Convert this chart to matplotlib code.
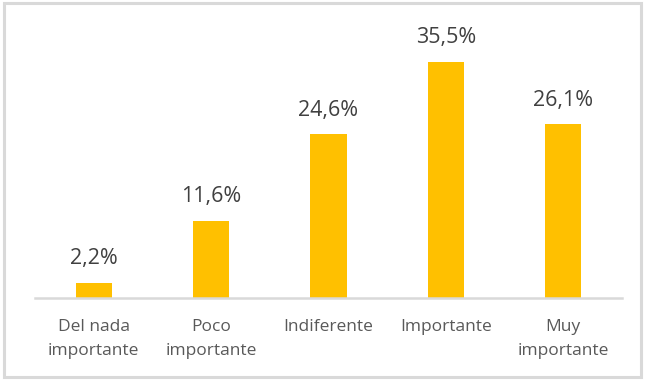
import matplotlib
matplotlib.use("Agg")
import matplotlib.pyplot as plt
from matplotlib.patches import Rectangle

categories = ["Del nada\nimportante", "Poco\nimportante", "Indiferente", "Importante", "Muy\nimportante"]
values = [2.2, 11.6, 24.6, 35.5, 26.1]
value_labels = ["2,2%", "11,6%", "24,6%", "35,5%", "26,1%"]

plt.rcParams['font.family'] = ['Open Sans', 'DejaVu Sans']

W, H = 646, 380
fig = plt.figure(figsize=(W / 100, H / 100), dpi=100)
ax = fig.add_axes([35 / W, 1 - 298 / H, 587 / W, 266 / H])

x = list(range(len(categories)))
ax.bar(x, values, width=0.31, color="#FFC000", zorder=2)
for xi, v, lab in zip(x, values, value_labels):
    ax.annotate(lab, (xi, v), xytext=(0, 10), textcoords="offset points",
                ha="center", va="bottom", fontsize=15.5, color="#404040")

ax.set_xlim(-0.5, 4.5)
ax.set_ylim(0, 40)
ax.set_xticks(x)
ax.set_xticklabels(categories, fontsize=12.5, color="#595959", linespacing=1.7)
ax.tick_params(axis="x", length=0, pad=15)
ax.set_yticks([])
for s in ["top", "right", "left"]:
    ax.spines[s].set_visible(False)
ax.spines["bottom"].set_color("#D9D9D9")
ax.spines["bottom"].set_linewidth(1.8)

fig.patches.append(Rectangle((4 / W, 3 / H), 637 / W, 374 / H, transform=fig.transFigure,
                             fill=False, edgecolor="#D9D9D9", linewidth=2.2))

fig.savefig("out.png", dpi=100)
